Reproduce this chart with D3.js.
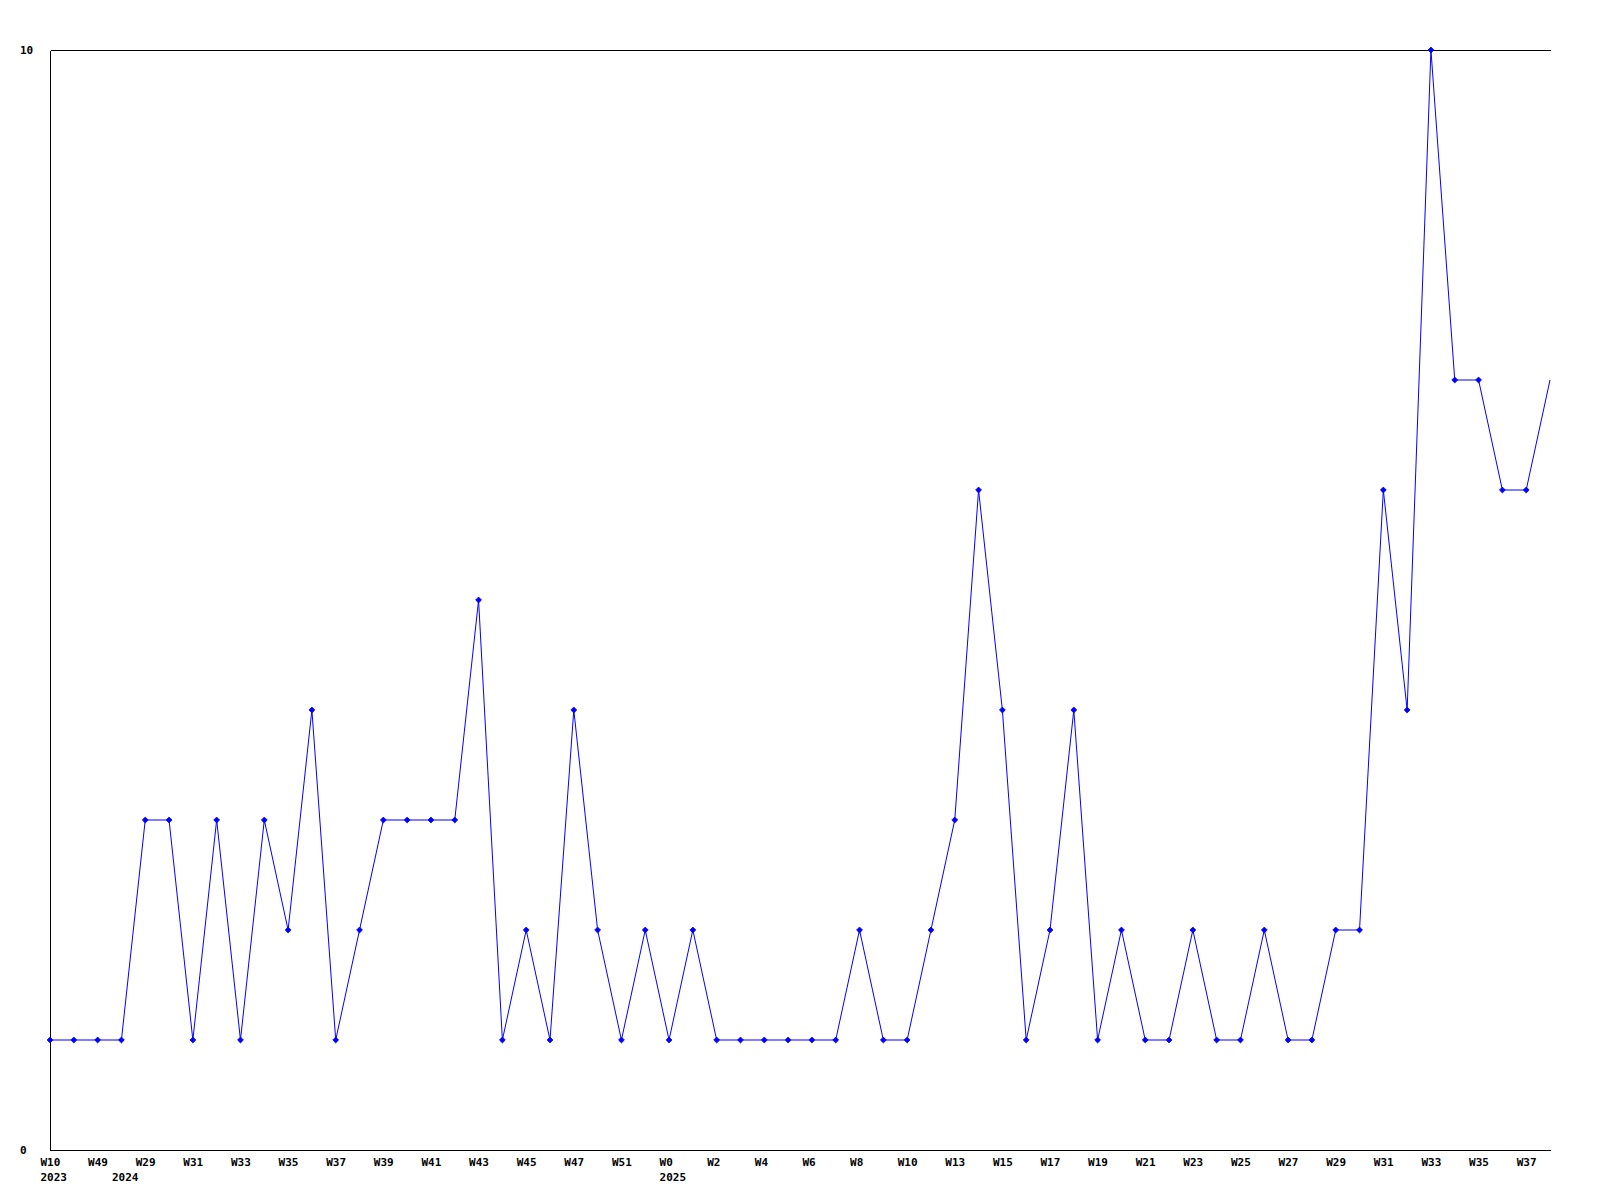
<!DOCTYPE html>
<html>
<head>
<meta charset="utf-8">
<script src="https://cdn.jsdelivr.net/npm/d3@7"></script>
<style>
  html, body { margin: 0; padding: 0; background: #ffffff; }
  svg { display: block; }
  text { font-family: "DejaVu Sans Mono", "Liberation Mono", monospace; font-weight: bold; font-size: 11px; fill: #000; }
</style>
</head>
<body>
<svg id="chart" width="1600" height="1200"></svg>
<script>
// ---- data ----
const weeks = [
  "W10","W11","W49","W28","W29","W30","W31","W32","W33","W34",
  "W35","W36","W37","W38","W39","W40","W41","W42","W43","W44",
  "W45","W46","W47","W49","W51","W52","W0","W1","W2","W3",
  "W4","W5","W6","W7","W8","W9","W10","W11","W13","W14",
  "W15","W16","W17","W18","W19","W20","W21","W22","W23","W24",
  "W25","W26","W27","W28","W29","W30","W31","W32","W33","W34",
  "W35","W36","W37","W38"
];
const years = [
  2023,2023,2023,2024,2024,2024,2024,2024,2024,2024,
  2024,2024,2024,2024,2024,2024,2024,2024,2024,2024,
  2024,2024,2024,2024,2024,2024,2025,2025,2025,2025,
  2025,2025,2025,2025,2025,2025,2025,2025,2025,2025,
  2025,2025,2025,2025,2025,2025,2025,2025,2025,2025,
  2025,2025,2025,2025,2025,2025,2025,2025,2025,2025,
  2025,2025,2025,2025
];
const values = [
  1,1,1,1,3,3,1,3,1,3,
  2,4,1,2,3,3,3,3,5,1,
  2,1,4,2,1,2,1,2,1,1,
  1,1,1,1,2,1,1,2,3,6,
  4,1,2,4,1,2,1,1,2,1,
  1,2,1,1,2,2,6,4,10,7,
  7,6,6,7
];
const yTicks = [0, 10];

// ---- layout ----
const svg = d3.select("#chart");
const L = 50, R = 1550, T = 50, B = 1150;

const x = d3.scaleLinear().domain([0, values.length - 1]).range([L, R]);
const y = d3.scaleLinear().domain([0, 10]).range([B, T]);

const idx = d3.range(values.length);
const weekTickIdx = idx.filter(i => i % 2 === 0);
const yearTickIdx = idx.filter(i => i === 0 || years[i] !== years[i - 1]);

// left axis
const gy = svg.append("g").attr("transform", `translate(${L},0)`)
  .call(d3.axisLeft(y).tickValues(yTicks).tickSize(0).tickFormat(d3.format("d")));
gy.select(".domain").attr("stroke", "#000").attr("shape-rendering", "crispEdges");
gy.selectAll("text").attr("text-anchor", "start").attr("x", -30).attr("dy", "0.35em");

// top border
const gt = svg.append("g").attr("transform", `translate(0,${T})`)
  .call(d3.axisTop(x).tickValues([]).tickSize(0));
gt.select(".domain").attr("stroke", "#000").attr("shape-rendering", "crispEdges");

// bottom axis with week labels
const gx = svg.append("g").attr("transform", `translate(0,${B})`)
  .call(d3.axisBottom(x).tickValues(weekTickIdx).tickSize(0).tickFormat(i => weeks[i]));
gx.select(".domain").attr("stroke", "#000").attr("shape-rendering", "crispEdges");
gx.selectAll("text").attr("text-anchor", "start").attr("x", -10).attr("y", 16).attr("dy", 0);

// year labels
const gyear = svg.append("g").attr("transform", `translate(0,${B})`)
  .call(d3.axisBottom(x).tickValues(yearTickIdx).tickSize(0).tickFormat(i => String(years[i])));
gyear.select(".domain").remove();
gyear.selectAll("text").attr("text-anchor", "start").attr("x", -10).attr("y", 31).attr("dy", 0);

// data line
const line = d3.line().x((d, i) => x(i)).y(d => y(d));
svg.append("path")
  .datum(values)
  .attr("fill", "none")
  .attr("stroke", "#0000ff")
  .attr("stroke-width", 1)
  .attr("d", line);

// markers (last point falls on the plot edge and shows none)
const diamond = d3.symbol().type(d3.symbolDiamond2).size(22);
svg.append("g").selectAll("path")
  .data(values.slice(0, -1))
  .join("path")
  .attr("transform", (d, i) => `translate(${x(i)},${y(d)})`)
  .attr("d", diamond)
  .attr("fill", "#0000ff")
  .attr("stroke", "#0000ff")
  .attr("stroke-width", 0.8);
</script>
</body>
</html>
